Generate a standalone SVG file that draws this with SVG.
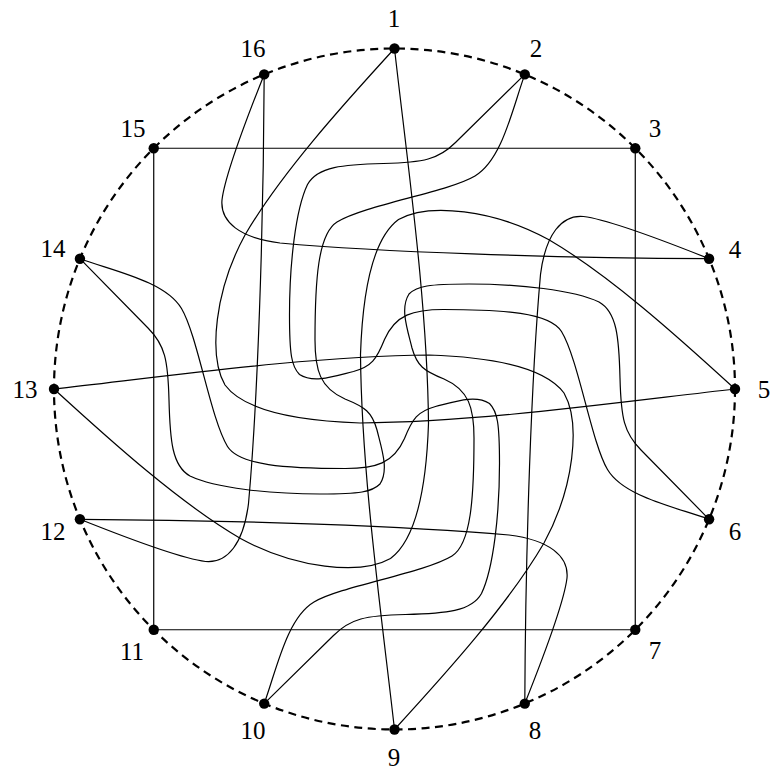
<svg xmlns="http://www.w3.org/2000/svg" width="772" height="772" viewBox="0 0 772 772">
<style>
.e{fill:none;stroke:#000;stroke-width:1.2}
.c{fill:none;stroke:#000;stroke-width:2.2;stroke-dasharray:8 5.5}
.n{fill:#000}
.l{font-family:"Liberation Serif","DejaVu Serif",serif;font-size:25px;text-anchor:middle;fill:#000}
</style>
<rect width="772" height="772" fill="#fff"/>
<circle class="c" cx="394.5" cy="389" r="340.5"/>
<g id="connectors">
<path class="e" d="M153.73,148.23 H635.27"/>
<path class="e" d="M635.27,148.23 V629.77"/>
<path class="e" d="M635.27,629.77 H153.73"/>
<path class="e" d="M153.73,629.77 V148.23"/>
<path class="e" d="M264.2,74.42 C250,110 225,175 222,200 C220,222 240,238 280,243 C380,252 550,258 709.08,258.7"/>
<path class="e" transform="rotate(90 394.5 389)" d="M264.2,74.42 C250,110 225,175 222,200 C220,222 240,238 280,243 C380,252 550,258 709.08,258.7"/>
<path class="e" transform="rotate(180 394.5 389)" d="M264.2,74.42 C250,110 225,175 222,200 C220,222 240,238 280,243 C380,252 550,258 709.08,258.7"/>
<path class="e" transform="rotate(270 394.5 389)" d="M264.2,74.42 C250,110 225,175 222,200 C220,222 240,238 280,243 C380,252 550,258 709.08,258.7"/>
<path class="e" d="M394.5,48.5 C340,108 280,175 245,235 C215,290 208,355 225,385 C245,412 300,421 360,423 C480,422 620,402 735,389"/>
<path class="e" transform="rotate(90 394.5 389)" d="M394.5,48.5 C340,108 280,175 245,235 C215,290 208,355 225,385 C245,412 300,421 360,423 C480,422 620,402 735,389"/>
<path class="e" transform="rotate(180 394.5 389)" d="M394.5,48.5 C340,108 280,175 245,235 C215,290 208,355 225,385 C245,412 300,421 360,423 C480,422 620,402 735,389"/>
<path class="e" transform="rotate(270 394.5 389)" d="M394.5,48.5 C340,108 280,175 245,235 C215,290 208,355 225,385 C245,412 300,421 360,423 C480,422 620,402 735,389"/>
<path class="e" d="M524.8,74.42 C512,110 502,160 475,176 C448,192 365,205 337,222 C318,234 315,280 315,340 C315,370 320,388 345,399 C365,407 372,412 377,430 C382,450 389,470 380,484 C372,492 360,494 320,494 C270,494 215,488 190,476 C172,466 170,440 169,400 C168,360 165,345 148,328 L79.92,258.7"/>
<path class="e" transform="rotate(90 394.5 389)" d="M524.8,74.42 C512,110 502,160 475,176 C448,192 365,205 337,222 C318,234 315,280 315,340 C315,370 320,388 345,399 C365,407 372,412 377,430 C382,450 389,470 380,484 C372,492 360,494 320,494 C270,494 215,488 190,476 C172,466 170,440 169,400 C168,360 165,345 148,328 L79.92,258.7"/>
<path class="e" transform="rotate(180 394.5 389)" d="M524.8,74.42 C512,110 502,160 475,176 C448,192 365,205 337,222 C318,234 315,280 315,340 C315,370 320,388 345,399 C365,407 372,412 377,430 C382,450 389,470 380,484 C372,492 360,494 320,494 C270,494 215,488 190,476 C172,466 170,440 169,400 C168,360 165,345 148,328 L79.92,258.7"/>
<path class="e" transform="rotate(270 394.5 389)" d="M524.8,74.42 C512,110 502,160 475,176 C448,192 365,205 337,222 C318,234 315,280 315,340 C315,370 320,388 345,399 C365,407 372,412 377,430 C382,450 389,470 380,484 C372,492 360,494 320,494 C270,494 215,488 190,476 C172,466 170,440 169,400 C168,360 165,345 148,328 L79.92,258.7"/>
</g>
<g id="n1"><circle class="n" cx="394.5" cy="48.5" r="5.2"/><text class="l" x="394" y="27">1</text></g>
<g id="n2"><circle class="n" cx="524.8" cy="74.42" r="5.2"/><text class="l" x="536" y="57">2</text></g>
<g id="n3"><circle class="n" cx="635.27" cy="148.23" r="5.2"/><text class="l" x="655" y="137">3</text></g>
<g id="n4"><circle class="n" cx="709.08" cy="258.7" r="5.2"/><text class="l" x="735" y="258">4</text></g>
<g id="n5"><circle class="n" cx="735" cy="389" r="5.2"/><text class="l" x="764" y="398">5</text></g>
<g id="n6"><circle class="n" cx="709.08" cy="519.3" r="5.2"/><text class="l" x="735" y="540">6</text></g>
<g id="n7"><circle class="n" cx="635.27" cy="629.77" r="5.2"/><text class="l" x="655" y="659">7</text></g>
<g id="n8"><circle class="n" cx="524.8" cy="703.58" r="5.2"/><text class="l" x="535" y="739">8</text></g>
<g id="n9"><circle class="n" cx="394.5" cy="729.5" r="5.2"/><text class="l" x="394" y="766">9</text></g>
<g id="n10"><circle class="n" cx="264.2" cy="703.58" r="5.2"/><text class="l" x="253" y="739">10</text></g>
<g id="n11"><circle class="n" cx="153.73" cy="629.77" r="5.2"/><text class="l" x="132" y="660">11</text></g>
<g id="n12"><circle class="n" cx="79.92" cy="519.3" r="5.2"/><text class="l" x="53" y="540">12</text></g>
<g id="n13"><circle class="n" cx="54" cy="389" r="5.2"/><text class="l" x="25" y="398">13</text></g>
<g id="n14"><circle class="n" cx="79.92" cy="258.7" r="5.2"/><text class="l" x="53" y="257">14</text></g>
<g id="n15"><circle class="n" cx="153.73" cy="148.23" r="5.2"/><text class="l" x="133" y="137">15</text></g>
<g id="n16"><circle class="n" cx="264.2" cy="74.42" r="5.2"/><text class="l" x="253" y="57">16</text></g>
</svg>
